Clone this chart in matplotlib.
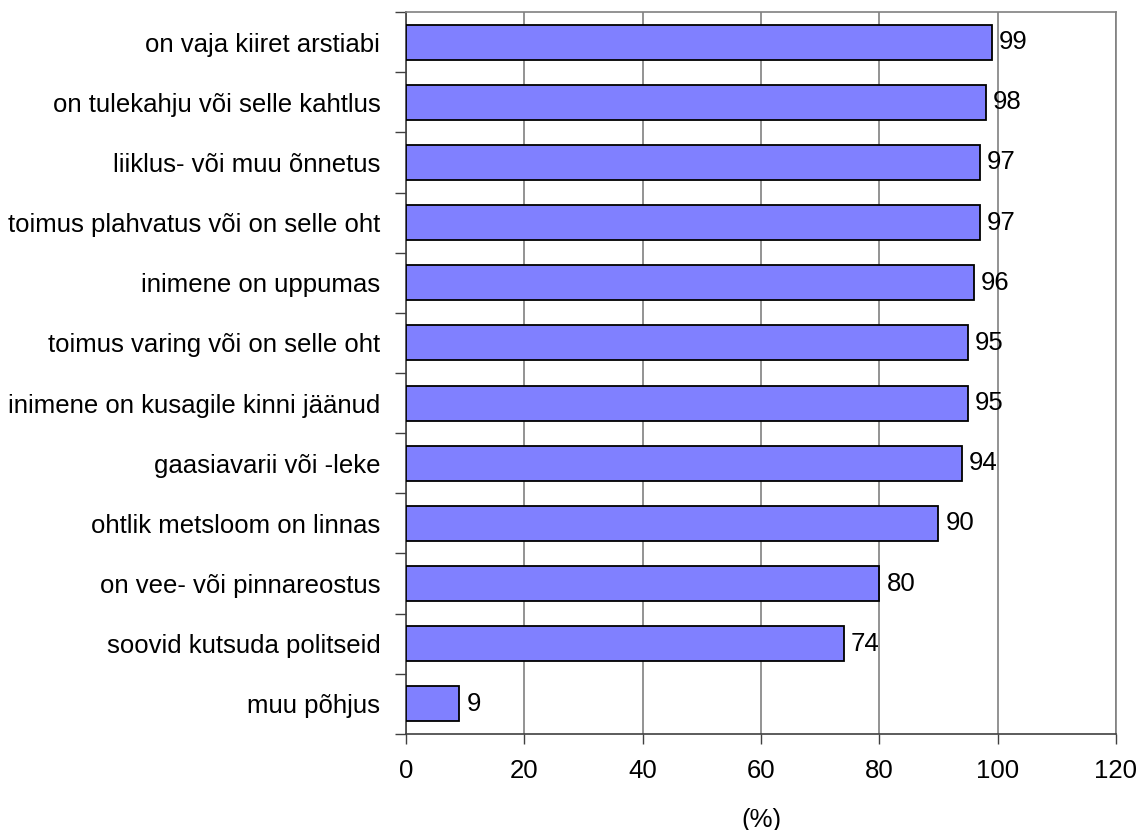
import numpy as np
import matplotlib

matplotlib.use("Agg")
import matplotlib.pyplot as plt

categories = [
    "on vaja kiiret arstiabi",
    "on tulekahju või selle kahtlus",
    "liiklus- või muu õnnetus",
    "toimus plahvatus või on selle oht",
    "inimene on uppumas",
    "toimus varing või on selle oht",
    "inimene on kusagile kinni jäänud",
    "gaasiavarii või -leke",
    "ohtlik metsloom on linnas",
    "on vee- või pinnareostus",
    "soovid kutsuda politseid",
    "muu põhjus",
]
values = [99, 98, 97, 97, 96, 95, 95, 94, 90, 80, 74, 9]
xticks = [0, 20, 40, 60, 80, 100, 120]

plt.rcParams["font.family"] = ["Liberation Sans", "DejaVu Sans"]
plt.rcParams["font.size"] = 18.5

fig = plt.figure(figsize=(11.42, 8.30), dpi=100)
ax = fig.add_axes([0.3555, 0.1157, 0.6217, 0.8698])

n = len(categories)
y = np.arange(n)
ax.barh(y, values, height=0.58, color="#8080FF", edgecolor="black", linewidth=1.3, zorder=3)
for yi, v in zip(y, values):
    ax.text(v + 1.2, yi, str(v), va="center", ha="left", zorder=4)

ax.set_ylim(n - 0.5, -0.5)
ax.set_xlim(0, 120)
ax.set_xticks(xticks)
ax.set_xlabel("(%)", labelpad=18)

ax.set_yticks(y)
ax.set_yticklabels(categories)
ax.set_yticks(np.arange(n + 1) - 0.5, minor=True)
ax.tick_params(axis="y", which="major", length=0, pad=18.5)
ax.tick_params(axis="y", which="minor", length=8, width=1, color="#404040", direction="out")
ax.tick_params(axis="x", length=7, width=1, color="#404040", pad=11)

ax.grid(axis="x", color="#808080", linewidth=1.2, zorder=0)
for side in ("top", "right"):
    ax.spines[side].set_color("#808080")
    ax.spines[side].set_linewidth(1.2)
for side in ("left", "bottom"):
    ax.spines[side].set_color("#404040")
    ax.spines[side].set_linewidth(1.2)

fig.savefig("out.png", dpi=100)
